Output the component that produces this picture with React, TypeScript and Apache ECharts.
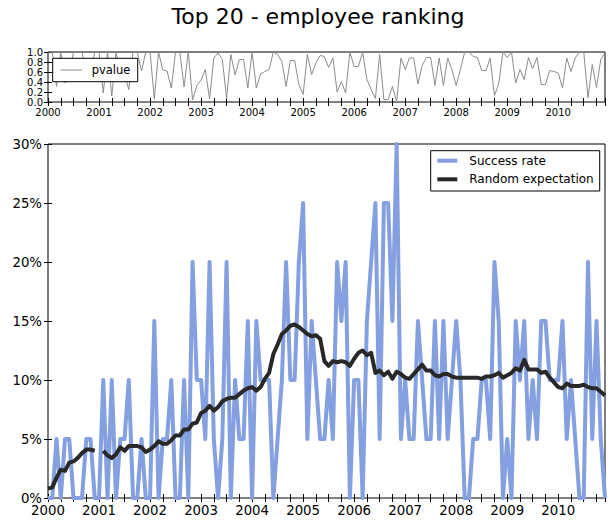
import React, { useEffect, useRef } from 'react';
import * as echarts from 'echarts';

const START_YEAR = 2000;
const TITLE = 'Top 20 - employee ranking';

// Monthly values, Jan 2000 .. Dec 2010 (132 months)
const successRate = [
  0, 0, 5, 0, 5, 5, 0, 0, 0, 5, 5, 0,
  0, 10, 0, 10, 0, 5, 5, 10, 0, 0, 5, 0,
  0, 15, 0, 5, 5, 10, 0, 0, 10, 0, 20, 10,
  10, 5, 20, 5, 0, 5, 20, 0, 10, 5, 5, 15,
  0, 15, 10, 10, 10, 0, 5, 10, 20, 10, 10, 20,
  25, 5, 15, 10, 5, 5, 10, 5, 20, 15, 20, 0,
  10, 10, 0, 15, 20, 25, 5, 25, 25, 15, 30, 5,
  10, 5, 5, 15, 10, 5, 5, 15, 5, 15, 5, 10,
  15, 10, 0, 0, 5, 5, 10, 10, 5, 20, 15, 0,
  5, 0, 15, 10, 15, 5, 10, 5, 15, 15, 10, 10,
  10, 15, 5, 10, 5, 0, 0, 20, 5, 15, 5, 0,
];

const randomExpectation: (number | null)[] = [
  0.8, 0.9, 1.7, 2.4, 2.3, 3.0, 3.1, 3.4, 3.8, 4.1, 4.1, 4.0,
  null, 4.0, 3.6, 3.4, 3.7, 4.3, 4.0, 4.4, 4.4, 4.4, 4.3, 3.9,
  4.1, 4.4, 4.8, 4.6, 4.6, 4.9, 5.3, 5.3, 5.8, 5.8, 6.3, 6.4,
  7.2, 7.4, 7.8, 7.4, 7.7, 8.2, 8.4, 8.5, 8.5, 8.8, 9.1, 9.3,
  9.4, 9.1, 9.4, 10.1, 10.6, 12.2, 13.0, 13.9, 14.2, 14.6, 14.7, 14.5,
  14.2, 13.9, 13.7, 13.8, 13.5, 11.6, 11.2, 11.6, 11.5, 11.6, 11.5, 11.2,
  11.8, 12.3, 12.5, 12.1, 12.3, 10.6, 10.8, 10.4, 10.7, 10.1, 10.7, 10.5,
  10.2, 10.1, 10.5, 10.9, 11.3, 10.8, 10.8, 10.4, 10.3, 10.5, 10.5, 10.3,
  10.2, 10.2, 10.2, 10.2, 10.2, 10.2, 10.1, 10.3, 10.3, 10.4, 10.6, 10.2,
  10.4, 10.6, 11.0, 10.8, 11.7, 10.9, 10.9, 10.9, 10.6, 10.7, 10.2, 9.8,
  9.4, 9.3, 9.7, 9.5, 9.5, 9.5, 9.6, 9.4, 9.3, 9.3, 9.0, 8.7,
];

const pvalue = [
  1.0, 1.0, 0.31, 1.0, 0.38, 0.46, 1.0, 1.0, 1.0, 0.57, 0.57, 1.0,
  1.0, 0.18, 1.0, 0.12, 1.0, 0.58, 0.56, 0.25, 1.0, 1.0, 0.62, 1.0,
  1.0, 0.06, 1.0, 0.64, 0.62, 0.28, 1.0, 1.0, 0.3, 1.0, 0.04, 0.33,
  0.44, 0.65, 0.06, 0.88, 0.98, 0.85, 0.07, 0.95, 0.54, 0.85, 0.85, 0.28,
  1.0, 0.28, 0.56, 0.61, 0.65, 1.0, 0.95, 0.81, 0.31, 0.83, 0.83, 0.35,
  0.15, 0.95, 0.55, 0.78, 0.93, 0.91, 0.69, 0.88, 0.2, 0.41, 0.18, 1.0,
  0.71, 0.71, 1.0, 0.45, 0.25, 0.07, 0.95, 0.05, 0.05, 0.31, 0.01, 0.88,
  0.65, 0.88, 0.88, 0.36, 0.73, 0.89, 0.89, 0.33, 0.88, 0.33, 0.88, 0.65,
  0.33, 0.65, 1.0, 1.0, 0.91, 0.89, 0.63, 0.63, 0.88, 0.13, 0.36, 1.0,
  0.89, 1.0, 0.38, 0.65, 0.45, 0.89, 0.67, 0.89, 0.35, 0.35, 0.63, 0.61,
  0.58, 0.28, 0.88, 0.61, 0.88, 1.0, 1.0, 0.09, 0.75, 0.29, 0.85, 0.98,
];

export default function App() {
  const ref = useRef<HTMLDivElement>(null);

  useEffect(() => {
    if (!ref.current) return;
    const chart = echarts.init(ref.current, null, { renderer: 'svg' });
    const font = 'DejaVu Sans';
    const maxX = successRate.length - 1;
    const xFmt = (v: number) => (v % 12 === 0 ? String(START_YEAR + v / 12) : '');

    const tick = { show: true, inside: true, length: 4, lineStyle: { color: '#000', width: 1 } };
    const xAxisOf = (gridIndex: number, position: string, showLabel: boolean, fontSize: number, margin: number) => ({
      gridIndex,
      type: 'value',
      position,
      min: 0,
      max: maxX,
      interval: 12,
      axisLine: { show: false },
      axisTick: tick,
      minorTick: { show: true, splitNumber: 4, length: 4, lineStyle: { color: '#000', width: 1 } },
      splitLine: { show: false },
      axisLabel: {
        show: showLabel, formatter: xFmt, fontFamily: font, fontSize, color: '#000', margin,
        lineHeight: Math.round(fontSize * 0.95),
      },
    });
    const yAxisOf = (gridIndex: number, position: string, showLabel: boolean, max: number, interval: number, fmt: (v: number) => string, fontSize: number, margin: number) => ({
      gridIndex,
      type: 'value',
      position,
      min: 0,
      max,
      interval,
      axisLine: { show: false },
      axisTick: tick,
      splitLine: { show: false },
      axisLabel: {
        show: showLabel, formatter: fmt, fontFamily: font, fontSize, color: '#000', margin,
        lineHeight: Math.round(fontSize * 0.8),
      },
    });

    const pFmt = (v: number) => v.toFixed(1);
    const pctFmt = (v: number) => `${Math.round(v)}%`;

    chart.setOption({
      animation: false,
      backgroundColor: '#fff',
      graphic: [
        {
          type: 'text',
          x: 318,
          y: 16,
          style: {
            text: TITLE,
            fontSize: 22,
            fontFamily: font,
            fill: '#000',
            textAlign: 'center',
            textVerticalAlign: 'middle',
            align: 'center',
            verticalAlign: 'middle',
          },
        },
      ],
      grid: [
        { left: 48, top: 52, width: 557, height: 50, show: true, borderColor: '#000', borderWidth: 1, backgroundColor: 'transparent' },
        { left: 48, top: 144, width: 557, height: 354, show: true, borderColor: '#000', borderWidth: 1, backgroundColor: 'transparent' },
      ],
      xAxis: [
        xAxisOf(0, 'bottom', true, 10, 5),
        xAxisOf(1, 'bottom', true, 13.3, 6),
        xAxisOf(0, 'top', false, 10, 5),
        xAxisOf(1, 'top', false, 13.3, 6),
      ],
      yAxis: [
        yAxisOf(0, 'left', true, 1, 0.2, pFmt, 10, 5),
        yAxisOf(1, 'left', true, 30, 5, pctFmt, 13.3, 6),
        yAxisOf(0, 'right', false, 1, 0.2, pFmt, 10, 5),
        yAxisOf(1, 'right', false, 30, 5, pctFmt, 13.3, 6),
      ],
      legend: [
        {
          data: ['pvalue'],
          left: 52.7,
          top: 58.3,
          orient: 'horizontal',
          icon: 'rect',
          itemWidth: 21,
          itemHeight: 1,
          padding: [4.7, 7.3, 4.7, 8],
          borderColor: '#000',
          borderWidth: 1,
          borderRadius: 0,
          backgroundColor: '#fff',
          selectedMode: false,
          textStyle: { fontFamily: font, fontSize: 11.5, color: '#000', lineHeight: 14, padding: [0, 0, 0, 5] },
        },
        {
          data: ['Success rate', 'Random expectation'],
          left: 430.7,
          top: 150.7,
          orient: 'vertical',
          icon: 'rect',
          itemWidth: 20,
          itemHeight: 4,
          itemGap: 4.6,
          padding: [3, 6, 4.7, 6.6],
          borderColor: '#000',
          borderWidth: 1,
          borderRadius: 0,
          backgroundColor: '#fff',
          selectedMode: false,
          textStyle: { fontFamily: font, fontSize: 12, color: '#000', lineHeight: 14, padding: [0, 0, 0, 7] },
        },
      ],
      series: [
        {
          name: 'pvalue',
          type: 'line',
          xAxisIndex: 0,
          yAxisIndex: 0,
          data: pvalue.map((v, i) => [i, v]),
          symbol: 'none',
          color: '#8c8c8c',
          lineStyle: { color: '#8c8c8c', width: 1 },
        },
        {
          name: 'Success rate',
          type: 'line',
          xAxisIndex: 1,
          yAxisIndex: 1,
          data: successRate.map((v, i) => [i, v]),
          symbol: 'none',
          color: '#85a0e0',
          lineStyle: { color: '#85a0e0', width: 4, join: 'round' },
        },
        {
          name: 'Random expectation',
          type: 'line',
          xAxisIndex: 1,
          yAxisIndex: 1,
          data: randomExpectation.map((v, i) => [i, v]),
          symbol: 'none',
          connectNulls: false,
          color: '#282828',
          lineStyle: { color: '#282828', width: 4, join: 'round' },
        },
      ],
    });

    return () => chart.dispose();
  }, []);

  return <div ref={ref} style={{ position: 'absolute', left: 0, top: 0, width: 611, height: 524 }} />;
}
